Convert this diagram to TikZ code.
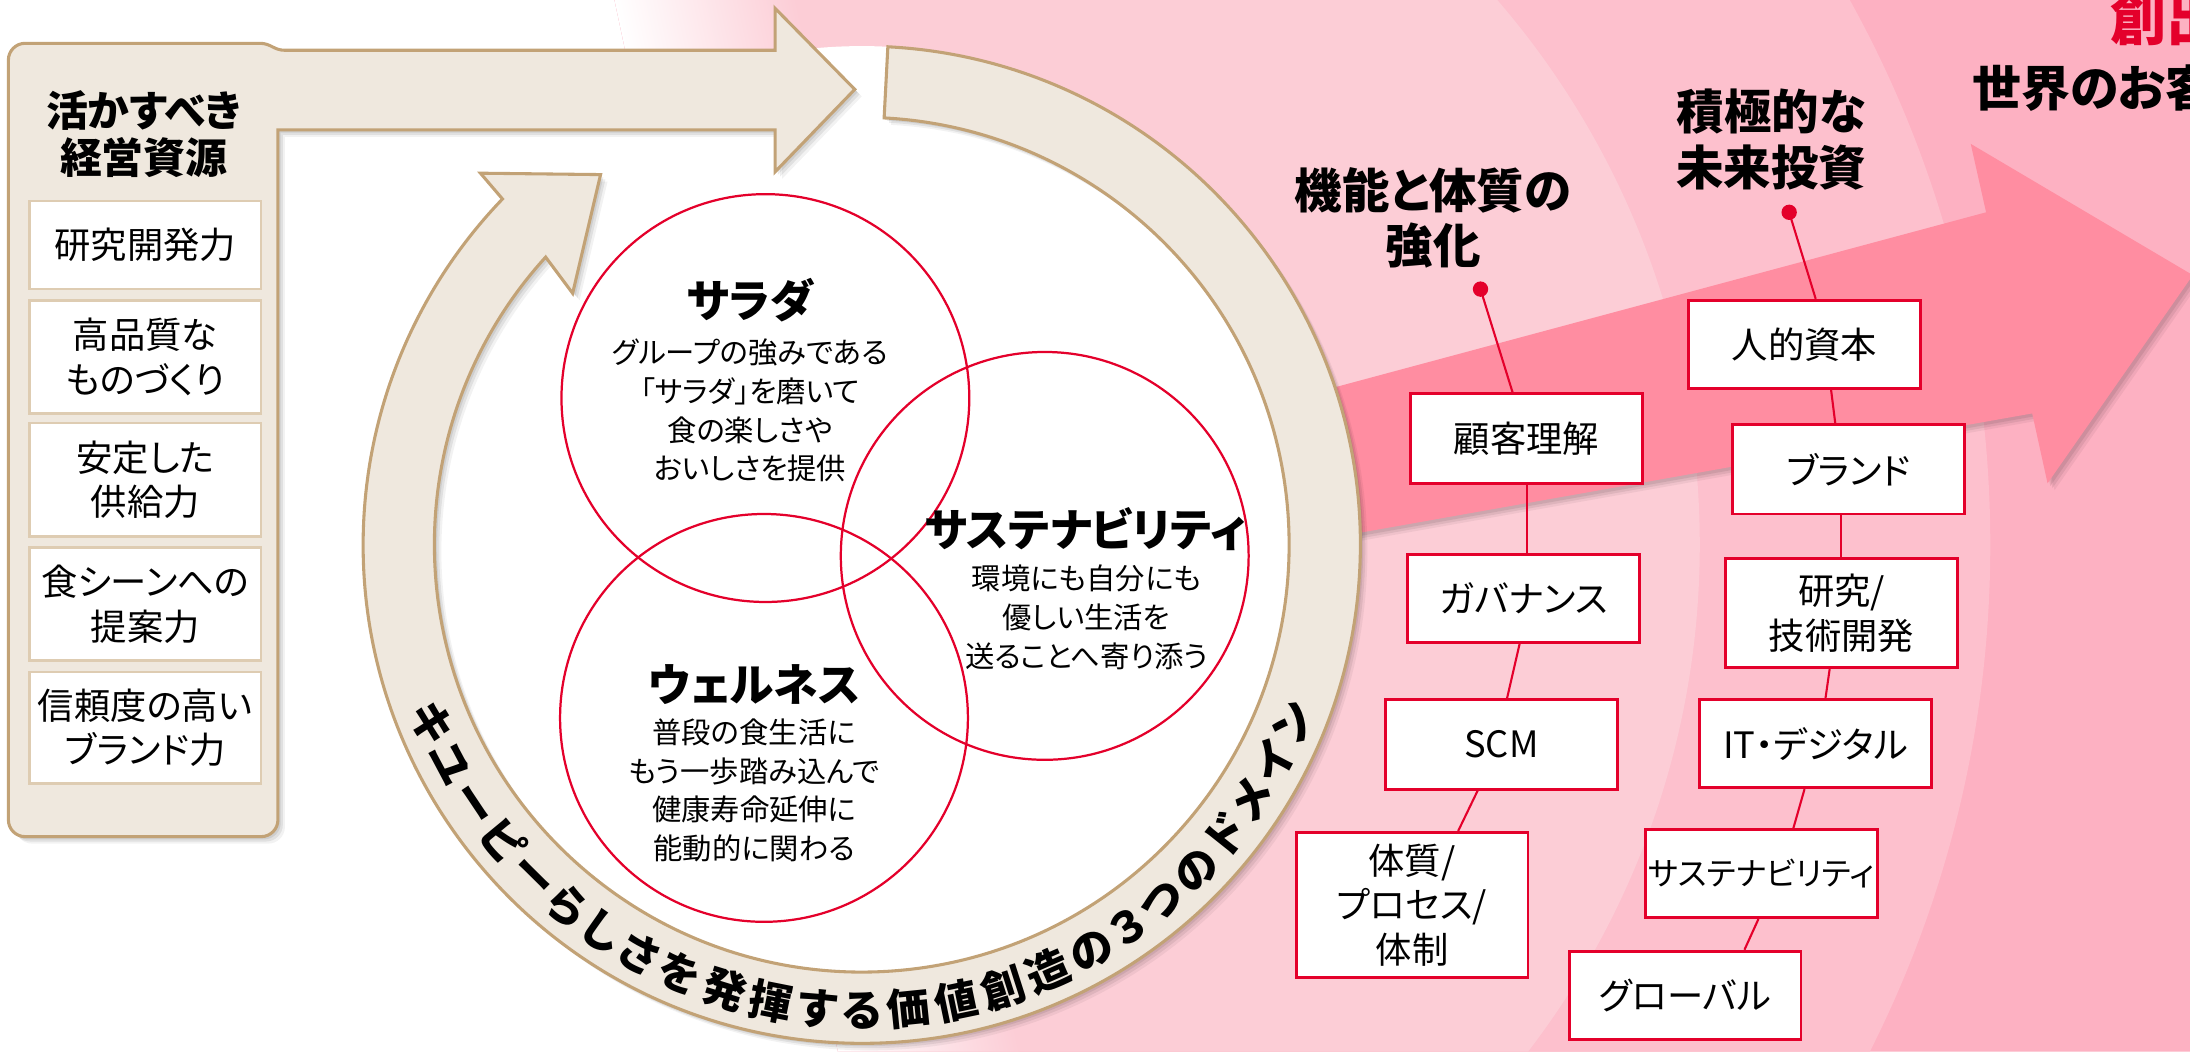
\documentclass[tikz,border=0pt]{standalone}
\usepackage{fontspec}
\setmainfont{Noto Sans CJK JP}[RawFeature={+palt}]
\usetikzlibrary{decorations.text,calc}
\definecolor{beige}{RGB}{239,232,222}
\definecolor{ringtan}{RGB}{194,162,118}
\definecolor{boxtan}{RGB}{222,204,178}
\definecolor{kred}{RGB}{228,0,43}
\definecolor{bandA}{RGB}{252,205,214}
\definecolor{bandB}{RGB}{253,192,205}
\definecolor{bandC}{RGB}{253,177,194}
\definecolor{arrowpink}{RGB}{255,141,161}
\newcommand\boxfont{\fontsize{26}{32}\selectfont}
\newcommand\headfont{\bfseries\fontsize{30}{34}\selectfont}
\newcommand\colhead{\bfseries\fontsize{34}{40}\selectfont}
\newcommand\vtitle{\bfseries\fontsize{32}{34}\selectfont}
\newcommand\vbody{\fontsize{21}{27.7}\selectfont}
\newcommand\ringfont{\bfseries\fontsize{31}{31}\selectfont}
\newcommand\softshadow[1]{%
  \fill[black,opacity=0.05,shift={(5,5)}] #1;
  \fill[black,opacity=0.07,shift={(3.5,3.5)}] #1;
  \fill[black,opacity=0.08,shift={(2,2)}] #1;}
\newcommand\ringpath{($(617,390)+(-87:357)$) arc[start angle=-87,end angle=223.9,radius=357] -- (344,124) -- (430,125) -- (410,210) -- ($(617,390)+(222.3:306)$) arc[start angle=222.3,end angle=-87,radius=306] -- cycle}
\newcommand\panelpath{(6,43) arc[start angle=180,end angle=270,radius=12] -- (186,31) .. controls (194,31) and (196,36) .. (204,36) -- (555,36) -- (555,6) -- (612,64) -- (555,123) -- (555,93) -- (199,93) -- (199,587) arc[start angle=0,end angle=90,radius=12] -- (18,599) arc[start angle=90,end angle=180,radius=12] -- cycle}
\newcommand\arrowpath{(700,346) -- (1422,152) -- (1411,103) -- (1570,197) -- (1466,346) -- (1455,296) -- (700,430) -- cycle}
\begin{document}
\begin{tikzpicture}[x=1pt,y=-1pt,
  pbox/.style={draw=boxtan,line width=1.8pt,fill=white,minimum width=166pt,inner sep=0pt,align=center,font=\boxfont},
  rbox/.style={draw=kred,line width=2pt,fill=white,minimum width=166pt,inner sep=0pt,align=center,font=\boxfont},
  conn/.style={draw=kred,line width=1.5pt},
  rdot/.style={circle,fill=kred,inner sep=0pt,minimum size=11pt},
  venn/.style={circle,draw=kred,line width=1.6pt,minimum size=292pt,inner sep=0pt}]
\useasboundingbox (0,0) rectangle (1568,753);
\clip (0,0) rectangle (1568,753);
\fill[white] (0,0) rectangle (1568,753);
% pink background bands
\begin{scope}
  \clip (440,0) -- (1568,0) -- (1568,753) -- (600,753) -- cycle;
  \fill[bandC] (0,0) rectangle (1568,753);
  \fill[bandB] (620,390) circle[radius=805];
  \fill[bandA] (620,390) circle[radius=597];
\end{scope}
\shade[transform canvas={xslant=-0.2125},left color=white,right color=bandA] (440,0) rectangle (570,753);
% big pink arrow
\softshadow{\arrowpath}
\fill[arrowpink] \arrowpath;
% white disc
\fill[white] (617,390) circle[radius=357];
% ring arrow
\softshadow{\ringpath}
\filldraw[fill=beige,draw=ringtan,line width=2.2pt,line join=miter] \ringpath;
\path[decorate,decoration={text along path,text={|\ringfont|キユーピーらしさを発揮する価値創造の３つのドメイン},text align=fit to path}] ($(617,390)+(160:345)$) arc[start angle=160,end angle=20,radius=345];
% panel + top arrow
\softshadow{\panelpath}
\filldraw[fill=beige,draw=ringtan,line width=2.2pt] \panelpath;
\node[font=\headfont,align=center] (ph) at (103,96) {活かすべき\\経営資源};
\node[pbox,minimum height=63pt] (p1) at (104,175.5) {研究開発力};
\node[pbox,minimum height=81pt] (p2) at (104,255.5) {高品質な\\ものづくり};
\node[pbox,minimum height=81pt] (p3) at (104,343.5) {安定した\\供給力};
\node[pbox,minimum height=81pt] (p4) at (104,432.5) {食シーンへの\\提案力};
\node[pbox,minimum height=80pt] (p5) at (104,521) {信頼度の高い\\ブランド力};
% venn
\node[venn] (salad) at (548,285) {};
\node[venn] (sustain) at (748,398) {};
\node[venn] (well) at (547,514) {};
\node[font=\vtitle] (t1) at (537,215) {サラダ};
\node[font=\vbody,align=center] (b1) at (537,294) {グループの強みである\\「サラダ」を磨いて\\食の楽しさや\\おいしさを提供};
\node[font=\vtitle] (t2) at (777,379) {サステナビリティ};
\node[font=\vbody,align=center] (b2) at (778,442) {環境にも自分にも\\優しい生活を\\送ることへ寄り添う};
\node[font=\vtitle] (t3) at (540,490) {ウェルネス};
\node[font=\vbody,align=center] (b3) at (540,566) {普段の食生活に\\もう一歩踏み込んで\\健康寿命延伸に\\能動的に関わる};
% right columns
\node[font=\colhead,align=center] (h1) at (1026,156) {機能と体質の\\強化};
\node[font=\colhead,align=center] (h2) at (1268,100) {積極的な\\未来投資};
\node[rdot] (d1) at (1060,207) {};
\node[rdot] (d2) at (1281,152) {};
\node[rbox,minimum height=64pt] (k1) at (1093,314) {顧客理解};
\node[rbox,minimum height=63pt] (k2) at (1091,428.5) {ガバナンス};
\node[rbox,minimum height=64pt] (k3) at (1075,533) {SCM};
\node[rbox,minimum height=104pt] (k4) at (1011,648) {体質/\\プロセス/\\体制};
\node[rbox,minimum height=63pt] (m1) at (1292,246.5) {人的資本};
\node[rbox,minimum height=64pt] (m2) at (1323.5,336) {ブランド};
\node[rbox,minimum height=78pt] (m3) at (1318.5,439) {研究/\\技術開発};
\node[rbox,minimum height=63pt] (m4) at (1300,532.5) {IT・デジタル};
\node[rbox,minimum height=63pt,font=\fontsize{23}{28}\selectfont] (m5) at (1261,625.5) {サステナビリティ};
\node[rbox,minimum height=63pt] (m6) at (1206.5,712.5) {グローバル};
\draw[conn] (d1.center) -- ([xshift=-10pt]k1.north);
\draw[conn] (k1.south) -- ([xshift=2pt]k2.north);
\draw[conn] ([xshift=-3pt]k2.south) -- ([xshift=4pt]k3.north);
\draw[conn] ([xshift=-17pt]k3.south) -- ([xshift=33pt]k4.north);
\draw[conn] (d2.center) -- ([xshift=8pt]m1.north);
\draw[conn] ([xshift=19pt]m1.south) -- ([xshift=-9.5pt]m2.north);
\draw[conn] ([xshift=-5.5pt]m2.south) -- ([xshift=-0.5pt]m3.north);
\draw[conn] ([xshift=-8.5pt]m3.south) -- ([xshift=7pt]m4.north);
\draw[conn] ([xshift=-8pt]m4.south) -- ([xshift=23pt]m5.north);
\draw[conn] ([xshift=-2pt]m5.south) -- ([xshift=42.5pt]m6.north);
% top right texts
\node[anchor=base west,inner sep=0pt,font=\bfseries\fontsize{40}{40}\selectfont,text=kred] (sou) at (1511,29) {創出};
\node[anchor=base west,inner sep=0pt,font=\bfseries\fontsize{35}{35}\selectfont] (sekai) at (1412,76) {世界のお客};
\end{tikzpicture}
\end{document}
